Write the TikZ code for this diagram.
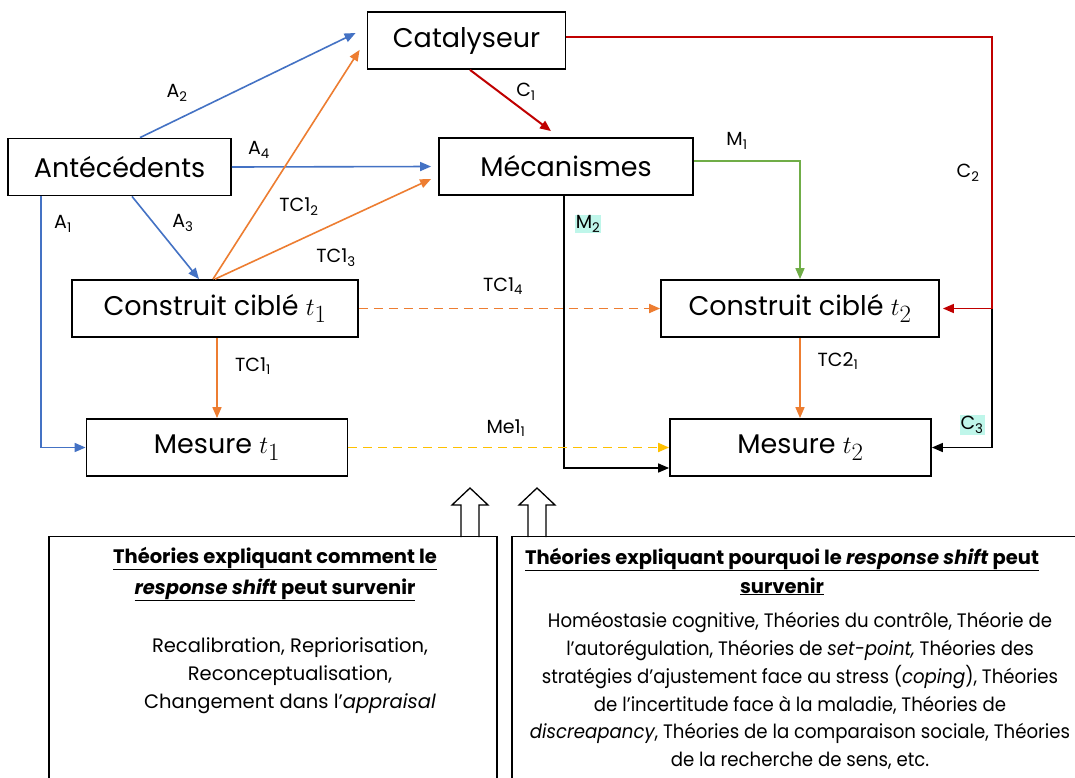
\documentclass[tikz,border=0pt]{standalone}
\usepackage{fontspec}
\setmainfont{Poppins}
\newfontfamily\narrowfont{Poppins}[FakeStretch=0.93]
\usetikzlibrary{arrows.meta,calc}
\definecolor{ablue}{RGB}{68,114,196}
\definecolor{aorange}{RGB}{237,125,49}
\definecolor{ared}{RGB}{192,0,0}
\definecolor{agreen}{RGB}{112,173,71}
\definecolor{ayellow}{RGB}{255,192,0}
\definecolor{acyan}{RGB}{191,246,234}
\newcommand{\tvar}[1]{{\fontsize{33}{33}\selectfont$t_{#1}$}}
\begin{document}
\begin{tikzpicture}[x=1pt,y=-1pt,
  box/.style={draw=black,line width=1.8pt,minimum height=57pt,inner sep=0pt,font=\fontsize{27}{32}\selectfont},
  lbl/.style={inner sep=0pt,font=\fontsize{19}{22}\selectfont},
  hl/.style={lbl,fill=acyan,inner sep=1pt},
  conn/.style={line width=1.6pt,-{Triangle[length=11pt,width=9pt]}},
  dconn/.style={conn,line width=1.8pt,dash pattern=on 9pt off 6pt},
  txt/.style={inner sep=0pt,anchor=base,font=\fontsize{19.5}{24}\selectfont},
  ntxt/.style={txt,font=\fontsize{19.5}{24}\selectfont\narrowfont},
  ttl/.style={txt,font=\fontsize{19.5}{24}\selectfont\bfseries},
  bigbox/.style={line width=1.4pt},
  hollow/.style={line width=1.3pt}
]
\useasboundingbox (0,0) rectangle (1075,777);
\fill[white] (0,0) rectangle (1075,777);

% main boxes
\node[box,minimum width=198pt] (cat) at (466.5,40.5) {Catalyseur};
\node[box,minimum width=223pt] (ant) at (119.5,167) {Antécédents};
\node[box,minimum width=254pt] (mec) at (566,166.5) {Mécanismes};
\node[box,minimum width=286pt] (ct1) at (215,308.5) {Construit ciblé \tvar{1}};
\node[box,minimum width=278pt] (ct2) at (800,308.5) {Construit ciblé \tvar{2}};
\node[box,minimum width=261pt] (me1) at (217,447.5) {Mesure \tvar{1}};
\node[box,minimum width=261pt] (me2) at (800.5,447.5) {Mesure \tvar{2}};
\coordinate (cj) at (992,308.5);

% connectors
\draw[conn,ablue] ([xshift=20.5pt]ant.north) -- ($(cat.west)+(-11,-7.5)$);
\draw[conn,ablue] (ant.east) -- ($(mec.west)+(-7,0)$);
\draw[conn,ablue] ([xshift=12.5pt]ant.south) -- ([xshift=-16pt]ct1.north);
\draw[conn,ablue] ([xshift=-78.5pt]ant.south) |- (me1.west);
\draw[conn,aorange] ([xshift=-2pt]ct1.north) -- ($(cat.south west)+(-7,-20)$);
\draw[conn,aorange] (ct1.north) -- ($(mec.west)+(-7,12.5)$);
\draw[conn,ared,line width=2pt] ([xshift=3.5pt]cat.south) -- ($(mec.north)+(-15,-6)$);
\draw[conn,agreen] ([yshift=5.5pt]mec.east) -| (ct2.north);
\draw[conn,black] ([xshift=-2pt]mec.south) |- ([yshift=-20.5pt]me2.west);
\draw[conn,ared,shorten >=3pt] ([yshift=3.5pt]cat.east) -| (cj) -- (ct2.east);
\draw[conn,black] (cj) |- (me2.east);
\draw[dconn,aorange] (ct1.east) -- (ct2.west);
\draw[dconn,ayellow] (me1.east) -- (me2.west);
\draw[conn,aorange] ([xshift=2pt]ct1.south) -- (me1.north);
\draw[conn,aorange] (ct2.south) -- (ct2.south |- me2.north);

% connector labels
\node[lbl] (lA2) at (177,93) {A\textsubscript{2}};
\node[lbl] (lA4) at (259,150) {A\textsubscript{4}};
\node[lbl] (lA1) at (63,224) {A\textsubscript{1}};
\node[lbl] (lA3) at (183,223) {A\textsubscript{3}};
\node[lbl] (lTC12) at (299,207) {TC1\textsubscript{2}};
\node[lbl] (lTC13) at (336,258) {TC1\textsubscript{3}};
\node[lbl] (lTC14) at (503,286) {TC1\textsubscript{4}};
\node[lbl] (lC1) at (526,92) {C\textsubscript{1}};
\node[lbl] (lM1) at (737,141) {M\textsubscript{1}};
\node[hl] (lM2) at (588,224) {M\textsubscript{2}};
\node[lbl] (lC2) at (968,173) {C\textsubscript{2}};
\node[hl] (lC3) at (972,425) {C\textsubscript{3}};
\node[lbl] (lMe) at (506,428) {Me1\textsubscript{1}};
\node[lbl] (lTC11) at (253,366) {TC1\textsubscript{1}};
\node[lbl] (lTC21) at (838,361) {TC2\textsubscript{1}};

% hollow arrows
\draw[hollow] (461,537) -- (461,505) -- (452,505) -- (470,488) -- (488,505) -- (479,505) -- (479,537);
\draw[hollow] (528,537) -- (528,505) -- (519,505) -- (537,488) -- (555,505) -- (546,505) -- (546,537);

% bottom boxes
\draw[bigbox] (49,800) -- (49,536.5) -- (497,536.5) -- (497,800);
\draw[bigbox] (512,800) -- (512,536.5) -- (1090,536.5);

% left box text
\node[ttl] (lt1) at (275,563) {\underline{Théories expliquant comment le}};
\node[ttl] (lt2) at (275,594) {\underline{\textit{response shift} peut survenir}};
\node[txt] (lb1) at (290,652) {Recalibration, Repriorisation,};
\node[txt] (lb2) at (290,680) {Reconceptualisation,};
\node[txt] (lb3) at (290,708) {Changement dans l’\textit{appraisal}};

% right box text
\node[ttl] (rt1) at (782,564) {\underline{Théories expliquant pourquoi le \textit{response shift} peut}};
\node[ttl] (rt2) at (782,593) {\underline{survenir}};
\node[ntxt] (rb1) at (800,627) {Homéostasie cognitive, Théories du contrôle, Théorie de};
\node[ntxt] (rb2) at (800,655) {l’autorégulation, Théories de \textit{set-point,} Théories des};
\node[ntxt] (rb3) at (800,683) {stratégies d’ajustement face au stress (\textit{coping}), Théories};
\node[ntxt] (rb4) at (800,711) {de l’incertitude face à la maladie, Théories de};
\node[ntxt] (rb5) at (800,738) {\textit{discreapancy}, Théories de la comparaison sociale, Théories};
\node[ntxt] (rb6) at (800,766) {de la recherche de sens, etc.};
\end{tikzpicture}
\end{document}
